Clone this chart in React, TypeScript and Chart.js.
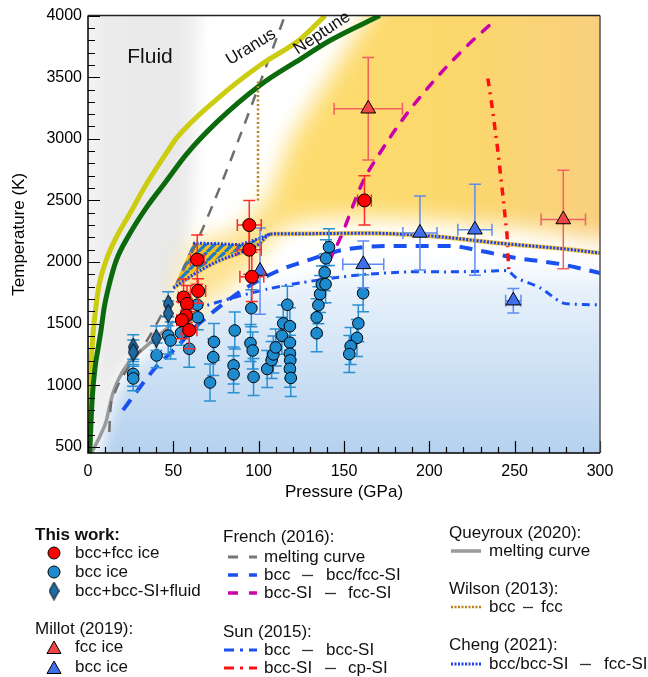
import { useEffect, useRef } from 'react';
import { Chart, registerables } from 'chart.js';

Chart.register(...registerables);

const FONT = '"Liberation Sans", Arial, Helvetica, sans-serif';

// ---------- axes ----------
const X_MIN = 0;
const X_MAX = 300;
const Y_MIN = 450;
const Y_MAX = 4000;
const X_TICKS = [0, 50, 100, 150, 200, 250, 300];
const Y_TICKS = [500, 1000, 1500, 2000, 2500, 3000, 3500, 4000];

// ---------- This work ----------
// bcc+fcc ice (red circles)
const bccFccP = [94.5, 94.5, 96, 162, 64, 64.5, 56, 58, 57.5, 55, 59.3];
const bccFccT = [2300, 2100, 1880, 2500, 2020, 1765, 1712, 1660, 1565, 1528, 1447];
const bccFccPErr = [7, 7, 7, 4, 4, 4.4, 3, 3, 3, 3, 4.5];
const bccFccTErr = [200, 200, 200, 200, 200, 100, 150, 150, 150, 150, 150];

// bcc ice (blue circles)
const bccP = [26.5, 26.5, 40.2, 47, 48.4, 54.5, 59.3, 64, 64.3, 71.5, 73.8, 73.4, 86, 85.3, 85.3, 95.7, 95.2, 96.5, 97,
  105, 107.6, 108.6, 110, 113.6, 114.4, 116.8, 118.3, 118.3, 118.3, 118.5, 118.3, 118.8,
  134, 134, 135, 136, 137, 139.2, 138.7, 139.4, 141.2, 161.2, 158.4, 157.6, 153.9, 153.1];
const bccT = [1092, 1055, 1242, 1403, 1363, 1425, 1296, 1653, 1551, 1022, 1352, 1228, 1444, 1161, 1089, 1625, 1342, 1282, 1067,
  1132, 1204, 1250, 1307, 1402, 1502, 1653, 1479, 1346, 1256, 1202, 1134, 1059,
  1422, 1551, 1650, 1740, 1818, 1820, 1916, 2030, 2121, 1747, 1502, 1384, 1318, 1253];
const bccTErr = [100, 100, 100, 150, 150, 100, 150, 100, 100, 150, 150, 150, 150, 150, 150, 150, 150, 150, 150,
  150, 150, 150, 150, 150, 150, 150, 150, 150, 150, 150, 150, 150,
  150, 150, 150, 150, 150, 150, 150, 150, 150, 150, 150, 150, 150, 150];

// bcc+bcc-SI+fluid (diamonds)
const fluidP = [26.5, 26.5, 40, 47, 47];
const fluidT = [1310, 1268, 1381, 1659, 1583];
const fluidTErr = [100, 100, 100, 100, 100];

// ---------- Millot (2019) ----------
const millotFccP = [164.2, 278.5];
const millotFccT = [3244, 2345];
const millotFccPErr = [20, 13];
const millotFccTErr = [415, 400];

const millotBccP = [194.5, 226.7, 161.3, 249.2, 100.8];
const millotBccT = [2236, 2262, 1981, 1686, 1927];
const millotBccPErr = [10, 10, 12, 4.5, 0];
const millotBccTErr = [300, 370, 190, 100, 350];

// ---------- curves ----------
const uranusP = [0.3, 1.0, 1.8, 2.8, 4.6, 6.6, 10.5, 16.4, 24.2, 34, 45.7, 52.1, 75.6, 100.8, 124.2, 138.9];
const uranusT = [450, 800, 1150, 1390, 1631, 1820, 2008, 2196, 2385, 2627, 2880, 3010, 3323, 3597, 3806, 4000];

const neptuneP = [1.0, 2.5, 4.2, 5.7, 7.6, 9.5, 12.5, 16.4, 24.2, 34, 45.7, 57.4, 75.6, 100.8, 124.2, 141.8, 171];
const neptuneT = [450, 900, 1150, 1282, 1443, 1631, 1820, 2008, 2223, 2438, 2653, 2870, 3137, 3435, 3645, 3798, 4000];

const frenchMeltP = [12.5, 13, 16, 24, 34, 43, 50, 65.6, 80, 95, 115.4];
const frenchMeltT = [620, 780, 950, 1150, 1350, 1570, 1766, 2220, 2700, 3240, 4000];

const queyrouxP = [2, 5, 7.8, 10.5, 12.5, 14.5, 17.6, 23.4, 31.2, 39, 46.9, 50];
const queyrouxT = [450, 530, 611, 700, 820, 930, 1040, 1175, 1282, 1376, 1470, 1520];

const wilsonP = [99.6, 99.6];
const wilsonT = [2500, 3480];

const frenchBccP = [20.5, 30, 40, 52, 62, 72, 85, 100, 115, 124, 150, 180, 212, 230, 250, 276, 300];
const frenchBccT = [798, 976, 1150, 1310, 1460, 1580, 1720, 1850, 1950, 1992, 2100, 2130, 2130, 2090, 2035, 1985, 1911];

const frenchSiP = [141, 148, 161, 169, 184.5, 202, 220, 237];
const frenchSiT = [2000, 2200, 2650, 2840, 3160, 3460, 3726, 3944];

const sunBccP = [52, 65.6, 85, 105, 124, 143.5, 163, 188, 212, 237, 246, 251, 265, 278, 290, 300];
const sunBccT = [1550, 1630, 1710, 1780, 1830, 1870, 1900, 1920, 1920, 1927, 1927, 1871, 1790, 1669, 1655, 1653];

const sunCpP = [234.3, 237, 240, 243, 245.5, 246.5];
const sunCpT = [3490, 3240, 2920, 2550, 2226, 1940];

const chengP = [50, 62, 75, 90, 100, 107, 124, 163, 202, 241, 280, 300];
const chengT = [1790, 1900, 2000, 2080, 2145, 2228, 2230, 2234, 2210, 2153, 2105, 2073];
const chengUpperP = [61.5, 75, 89, 100, 107];
const chengUpperT = [2153, 2150, 2140, 2190, 2228];

// ---------- shaded regions (outlines in data units) ----------
const fluidRegionP = [-10, -10, 68, 65, 62, 57, 52, 47, 43, 37, 29, 21.4, 15.6, 9.7, 5.8, 0, -10];
const fluidRegionT = [300, 4300, 4300, 3000, 2400, 2100, 1800, 1560, 1440, 1376, 1282, 1175, 1040, 774, 611, 450, 300];

const blueRegionP = [6, 9, 12.5, 16, 21, 27, 35, 43, 50, 56, 62, 75, 100, 130, 160, 200, 250, 320, 320];
const blueRegionT = [300, 550, 720, 900, 1040, 1150, 1250, 1340, 1410, 1480, 1560, 1650, 1780, 1900, 2030, 2120, 2090, 2020, 300];

const orangeRegionP = [50, 54, 58, 65, 80, 95, 106, 115, 130, 160, 200, 250, 320, 320, 178, 146, 119, 105, 86, 62];
const orangeRegionT = [1790, 1520, 1480, 1620, 1760, 1950, 2170, 2290, 2350, 2365, 2350, 2290, 2140, 4300, 4300, 3600, 3000, 2500, 2240, 2170];

const hatchP = [50, 61.5, 75, 89, 100, 107, 100, 90, 75, 62];
const hatchT = [1790, 2153, 2150, 2140, 2190, 2228, 2145, 2080, 2000, 1900];

// ---------- helpers ----------
const pts = (P: number[], T: number[]) => P.map((p, i) => ({ x: p, y: T[i] }));

function lineDs(label: string, P: number[], T: number[], color: string, width: number, dash: number[], extra: any = {}) {
  return {
    label,
    data: pts(P, T),
    showLine: true,
    borderColor: color,
    backgroundColor: color,
    borderWidth: width,
    borderDash: dash,
    borderCapStyle: 'butt',
    pointRadius: 0,
    pointHoverRadius: 0,
    fill: false,
    tension: 0,
    ...extra,
  };
}

function makeDiamond(): HTMLCanvasElement {
  const c = document.createElement('canvas');
  c.width = 11;
  c.height = 19;
  const d = c.getContext('2d')!;
  d.beginPath();
  d.moveTo(5.5, 0.5);
  d.lineTo(10.5, 9.5);
  d.lineTo(5.5, 18.5);
  d.lineTo(0.5, 9.5);
  d.closePath();
  d.fillStyle = '#1d6aa5';
  d.fill();
  d.lineWidth = 1;
  d.strokeStyle = '#000';
  d.stroke();
  return c;
}

function makeHatch(ctx: CanvasRenderingContext2D): CanvasPattern | string {
  const s = 9;
  const c = document.createElement('canvas');
  c.width = s;
  c.height = s;
  const d = c.getContext('2d')!;
  d.fillStyle = '#f3c21c';
  d.fillRect(0, 0, s, s);
  d.strokeStyle = '#1f78c8';
  d.lineWidth = 3.2;
  for (const o of [-s, 0, s]) {
    d.beginPath();
    d.moveTo(o, s);
    d.lineTo(o + s, 0);
    d.stroke();
  }
  return ctx.createPattern(c, 'repeat') || '#f3c21c';
}

export default function App() {
  const ref = useRef<HTMLCanvasElement>(null);

  useEffect(() => {
    document.body.style.margin = '0';
    const canvas = ref.current!;
    const ctx = canvas.getContext('2d')!;
    const diamond = makeDiamond();
    const hatch = makeHatch(ctx);

    const bgPlugin = {
      id: 'bgRegions',
      beforeDraw(chart: any) {
        const { ctx: c, chartArea: a, scales } = chart;
        const X = (v: number) => scales.x.getPixelForValue(v);
        const Y = (v: number) => scales.y.getPixelForValue(v);
        const path = (P: number[], T: number[]) => {
          c.beginPath();
          P.forEach((p, i) => (i ? c.lineTo(X(p), Y(T[i])) : c.moveTo(X(p), Y(T[i]))));
          c.closePath();
        };
        c.save();
        c.beginPath();
        c.rect(a.left, a.top, a.right - a.left, a.bottom - a.top);
        c.clip();
        c.fillStyle = '#ffffff';
        c.fillRect(a.left, a.top, a.right - a.left, a.bottom - a.top);

        // fluid (gray)
        c.filter = 'blur(6px)';
        let g = c.createLinearGradient(a.left, 0, a.left + 122, 0);
        g.addColorStop(0, '#f4f4f4');
        g.addColorStop(0.15, '#ebebeb');
        g.addColorStop(0.75, '#e9e9e9');
        g.addColorStop(1, 'rgba(242,242,242,0.4)');
        c.fillStyle = g;
        path(fluidRegionP, fluidRegionT);
        c.fill();

        // blue (solid ice)
        c.filter = 'blur(7px)';
        g = c.createLinearGradient(0, Y(2150), 0, a.bottom);
        g.addColorStop(0, 'rgba(255,255,255,0)');
        g.addColorStop(0.2, '#e9f2fb');
        g.addColorStop(0.5, '#d4e5f6');
        g.addColorStop(1, '#b5d1ee');
        c.fillStyle = g;
        path(blueRegionP, blueRegionT);
        c.fill();

        // orange (superionic)
        c.filter = 'blur(11px)';
        g = c.createLinearGradient(X(50), 0, a.right, 0);
        g.addColorStop(0, '#fde5a2');
        g.addColorStop(0.3, '#fddc70');
        g.addColorStop(0.65, '#fcd86b');
        g.addColorStop(1, '#f9cf7e');
        c.fillStyle = g;
        path(orangeRegionP, orangeRegionT);
        c.fill();

        c.filter = 'none';
        c.fillStyle = hatch;
        path(hatchP, hatchT);
        c.fill();
        c.restore();
      },
    };

    const errPlugin = {
      id: 'errBars',
      beforeDatasetDraw(chart: any, args: any) {
        const ds = chart.data.datasets[args.index];
        if (!ds.errY) return;
        const { ctx: c, scales } = chart;
        const X = (v: number) => scales.x.getPixelForValue(v);
        const Y = (v: number) => scales.y.getPixelForValue(v);
        c.save();
        c.strokeStyle = ds.errColor;
        c.lineWidth = 1.5;
        const cap = 6;
        ds.data.forEach((pt: any, i: number) => {
          const px = X(pt.x);
          const py = Y(pt.y);
          const ey = ds.errY[i];
          if (ey) {
            const y1 = Y(pt.y + ey);
            const y2 = Y(pt.y - ey);
            c.beginPath();
            c.moveTo(px, y1);
            c.lineTo(px, y2);
            c.moveTo(px - cap, y1);
            c.lineTo(px + cap, y1);
            c.moveTo(px - cap, y2);
            c.lineTo(px + cap, y2);
            c.stroke();
          }
          const ex = ds.errX ? ds.errX[i] : 0;
          if (ex) {
            const x1 = X(pt.x - ex);
            const x2 = X(pt.x + ex);
            c.beginPath();
            c.moveTo(x1, py);
            c.lineTo(x2, py);
            c.moveTo(x1, py - cap);
            c.lineTo(x1, py + cap);
            c.moveTo(x2, py - cap);
            c.lineTo(x2, py + cap);
            c.stroke();
          }
        });
        c.restore();
      },
    };

    const overlayPlugin = {
      id: 'overlay',
      afterDraw(chart: any) {
        const { ctx: c, chartArea: a, scales } = chart;
        const X = (v: number) => scales.x.getPixelForValue(v);
        const Y = (v: number) => scales.y.getPixelForValue(v);
        c.save();
        // inward ticks
        c.strokeStyle = '#000';
        c.lineWidth = 1.2;
        c.beginPath();
        for (let v = 500; v <= 4000; v += 100) {
          const len = v % 500 === 0 ? 12 : 7;
          const y = Math.round(Y(v)) + 0.5;
          c.moveTo(a.left, y);
          c.lineTo(a.left + len, y);
        }
        for (let v = 0; v <= 300; v += 10) {
          const len = v % 50 === 0 ? 12 : 6;
          const x = Math.round(X(v)) + 0.5;
          c.moveTo(x, a.bottom);
          c.lineTo(x, a.bottom - len);
        }
        c.stroke();
        // frame
        c.lineWidth = 1.5;
        c.strokeStyle = '#222';
        c.beginPath();
        c.moveTo(a.left, a.top);
        c.lineTo(a.right, a.top);
        c.stroke();
        c.strokeStyle = '#555';
        c.beginPath();
        c.moveTo(a.right, a.top);
        c.lineTo(a.right, a.bottom);
        c.stroke();
        c.strokeStyle = '#000';
        c.beginPath();
        c.moveTo(a.left, a.top);
        c.lineTo(a.left, a.bottom);
        c.lineTo(a.right, a.bottom);
        c.stroke();

        // annotations
        c.fillStyle = '#111';
        c.textBaseline = 'middle';
        c.textAlign = 'center';
        c.font = `21px ${FONT}`;
        c.fillText('Fluid', 150, 57);
        c.font = `17px ${FONT}`;
        c.save();
        c.translate(251, 47);
        c.rotate((-31.5 * Math.PI) / 180);
        c.fillText('Uranus', 0, 0);
        c.restore();
        c.save();
        c.translate(322, 33);
        c.rotate((-33.5 * Math.PI) / 180);
        c.fillText('Neptune', 0, 0);
        c.restore();

        // legend
        c.textAlign = 'left';
        c.textBaseline = 'middle';
        const txt = (s: string, x: number, y: number, bold = false) => {
          c.font = `${bold ? 'bold ' : ''}17px ${FONT}`;
          c.fillStyle = '#111';
          c.fillText(s, x, y);
        };
        const dash = (x1: number, x2: number, y: number) => {
          c.save();
          c.strokeStyle = '#333';
          c.lineWidth = 1.3;
          c.setLineDash([]);
          c.beginPath();
          c.moveTo(x1, y + 0.5);
          c.lineTo(x2, y + 0.5);
          c.stroke();
          c.restore();
        };
        const seg = (segs: number[][], y: number, color: string, w: number, lineDash: number[] = []) => {
          c.save();
          c.strokeStyle = color;
          c.lineWidth = w;
          c.setLineDash(lineDash);
          c.beginPath();
          segs.forEach(([x1, x2]) => {
            c.moveTo(x1, y);
            c.lineTo(x2, y);
          });
          c.stroke();
          c.restore();
        };
        const circle = (x: number, y: number, r: number, fill: string) => {
          c.beginPath();
          c.arc(x, y, r, 0, Math.PI * 2);
          c.fillStyle = fill;
          c.fill();
          c.lineWidth = 1;
          c.strokeStyle = '#000';
          c.stroke();
        };
        const tri = (x: number, y: number, fill: string) => {
          c.beginPath();
          c.moveTo(x, y - 7);
          c.lineTo(x + 7, y + 5.5);
          c.lineTo(x - 7, y + 5.5);
          c.closePath();
          c.fillStyle = fill;
          c.fill();
          c.lineWidth = 1;
          c.strokeStyle = '#000';
          c.stroke();
        };

        // column 1
        txt('This work:', 35, 535, true);
        circle(54, 553, 6, '#ff0000');
        txt('bcc+fcc ice', 75, 553);
        circle(54, 572, 6, '#1f8bcf');
        txt('bcc ice', 75, 572);
        c.drawImage(diamond, 54 - 5.5, 591 - 9.5);
        txt('bcc+bcc-SI+fluid', 75, 591);
        txt('Millot (2019):', 35, 629);
        tri(54, 648, '#f04545');
        txt('fcc ice', 75, 647);
        tri(54, 668, '#3f6fec');
        txt('bcc ice', 75, 667);

        // column 2
        txt('French (2016):', 223, 537);
        seg([[228, 238], [249, 257]], 557, '#777', 3);
        txt('melting curve', 264, 557);
        seg([[228, 238], [249, 257]], 575, '#1a50f0', 3.5);
        txt('bcc', 264, 575);
        dash(302, 313, 575);
        txt('bcc/fcc-SI', 326, 575);
        seg([[228, 238], [249, 257]], 593, '#cc00aa', 3.5);
        txt('bcc-SI', 264, 593);
        dash(325, 336, 593);
        txt('fcc-SI', 348, 593);
        txt('Sun (2015):', 223, 632);
        seg([[224, 234], [240, 243], [249, 257]], 650, '#1a50f0', 3);
        txt('bcc', 264, 650);
        dash(302, 313, 650);
        txt('bcc-SI', 326, 650);
        seg([[224, 234], [240, 243], [249, 257]], 668, '#ff1010', 3);
        txt('bcc-SI', 264, 668);
        dash(325, 336, 668);
        txt('cp-SI', 348, 668);

        // column 3
        txt('Queyroux (2020):', 449, 533);
        seg([[451, 481]], 551, '#999', 3.5);
        txt('melting curve', 489, 551);
        txt('Wilson (2013):', 449, 589);
        seg([[451, 481]], 607, '#b8801e', 2.5, [2, 1.5]);
        txt('bcc', 489, 607);
        dash(523, 533, 607);
        txt('fcc', 541, 607);
        txt('Cheng (2021):', 449, 645);
        seg([[451, 481]], 664, '#1a40f0', 3, [2, 1.5]);
        txt('bcc/bcc-SI', 489, 664);
        dash(580, 591, 664);
        txt('fcc-SI', 604, 664);
        c.restore();
      },
    };

    const datasets: any[] = [
      {
        label: 'bcc+fcc ice',
        data: pts(bccFccP, bccFccT),
        pointStyle: 'circle',
        pointRadius: 6.5,
        backgroundColor: '#ff0000',
        borderColor: '#000',
        borderWidth: 1,
        errX: bccFccPErr,
        errY: bccFccTErr,
        errColor: '#ff2a2a',
      },
      {
        label: 'Millot fcc ice',
        data: pts(millotFccP, millotFccT),
        pointStyle: 'triangle',
        pointRadius: 8.5,
        backgroundColor: '#f04545',
        borderColor: '#000',
        borderWidth: 1,
        errX: millotFccPErr,
        errY: millotFccTErr,
        errColor: '#f26060',
      },
      {
        label: 'Millot bcc ice',
        data: pts(millotBccP, millotBccT),
        pointStyle: 'triangle',
        pointRadius: 8.5,
        backgroundColor: '#3f6fec',
        borderColor: '#000',
        borderWidth: 1,
        errX: millotBccPErr,
        errY: millotBccTErr,
        errColor: '#5f8cf0',
      },
      {
        label: 'bcc+bcc-SI+fluid',
        data: pts(fluidP, fluidT),
        pointStyle: diamond,
        pointRadius: 8,
        errY: fluidTErr,
        errColor: '#2a90d2',
      },
      {
        label: 'bcc ice',
        data: pts(bccP, bccT),
        pointStyle: 'circle',
        pointRadius: 5.8,
        backgroundColor: '#1f8bcf',
        borderColor: '#000',
        borderWidth: 1,
        errY: bccTErr,
        errColor: '#2a90d2',
      },
      lineDs('Cheng upper', chengUpperP, chengUpperT, '#1a40f0', 3, [2, 1.5]),
      lineDs('Cheng', chengP, chengT, '#1a40f0', 3, [2, 1.5], { cubicInterpolationMode: 'monotone' }),
      lineDs('Cheng glow', chengP, chengT, '#f2c64a', 4.5, [], { cubicInterpolationMode: 'monotone' }),
      lineDs('Sun bcc-SI - cp-SI', sunCpP, sunCpT, '#ff1010', 3.5, [8, 6, 2, 6]),
      lineDs('Sun bcc - bcc-SI', sunBccP, sunBccT, '#1a50f0', 3, [8, 5, 2, 5], { tension: 0.25 }),
      lineDs('French bcc-SI - fcc-SI', frenchSiP, frenchSiT, '#cc00aa', 3.5, [9, 11], { borderCapStyle: 'round', cubicInterpolationMode: 'monotone' }),
      lineDs('French bcc - bcc/fcc-SI', frenchBccP, frenchBccT, '#1a50f0', 4, [13, 9], { cubicInterpolationMode: 'monotone' }),
      lineDs('Wilson', wilsonP, wilsonT, '#b8801e', 2.5, [2, 2.5]),
      lineDs('Neptune', neptuneP, neptuneT, '#0b6a0b', 5, [], { cubicInterpolationMode: 'monotone' }),
      lineDs('Uranus', uranusP, uranusT, '#cccc10', 5, [], { cubicInterpolationMode: 'monotone' }),
      lineDs('French melting', frenchMeltP, frenchMeltT, '#6e6e6e', 2.5, [11, 9], { cubicInterpolationMode: 'monotone' }),
      lineDs('Queyroux melting', queyrouxP, queyrouxT, '#9a9a9a', 3.5, [], { cubicInterpolationMode: 'monotone' }),
    ];

    Chart.defaults.font.family = FONT;

    const chart = new Chart(ctx, {
      type: 'scatter',
      data: { datasets },
      options: {
        animation: false,
        responsive: false,
        events: [],
        layout: { padding: { left: 5, top: 13, right: 48, bottom: 170 } },
        plugins: { legend: { display: false }, tooltip: { enabled: false } },
        scales: {
          x: {
            type: 'linear',
            min: X_MIN,
            max: X_MAX,
            z: 1,
            afterFit: (s: any) => {
              s.height = 54;
            },
            afterBuildTicks: (s: any) => {
              s.ticks = X_TICKS.map((v) => ({ value: v }));
            },
            grid: { display: false, drawTicks: false },
            border: { display: false },
            ticks: { color: '#000', font: { size: 16 }, padding: 9, maxRotation: 0, callback: (v: any) => String(v) },
            title: { display: true, text: 'Pressure (GPa)', color: '#000', font: { size: 17 }, padding: 4 },
          },
          y: {
            type: 'linear',
            min: Y_MIN,
            max: Y_MAX,
            z: 1,
            afterFit: (s: any) => {
              s.width = 83;
            },
            afterBuildTicks: (s: any) => {
              s.ticks = Y_TICKS.map((v) => ({ value: v }));
            },
            grid: { display: false, drawTicks: false },
            border: { display: false },
            ticks: { color: '#000', font: { size: 16 }, padding: 6, callback: (v: any) => String(v) },
            title: { display: true, text: 'Temperature (K)', color: '#000', font: { size: 17 }, padding: 4 },
          },
        },
      } as any,
      plugins: [bgPlugin, errPlugin, overlayPlugin],
    });

    return () => chart.destroy();
  }, []);

  return <canvas ref={ref} width={648} height={677} style={{ display: 'block' }} />;
}
